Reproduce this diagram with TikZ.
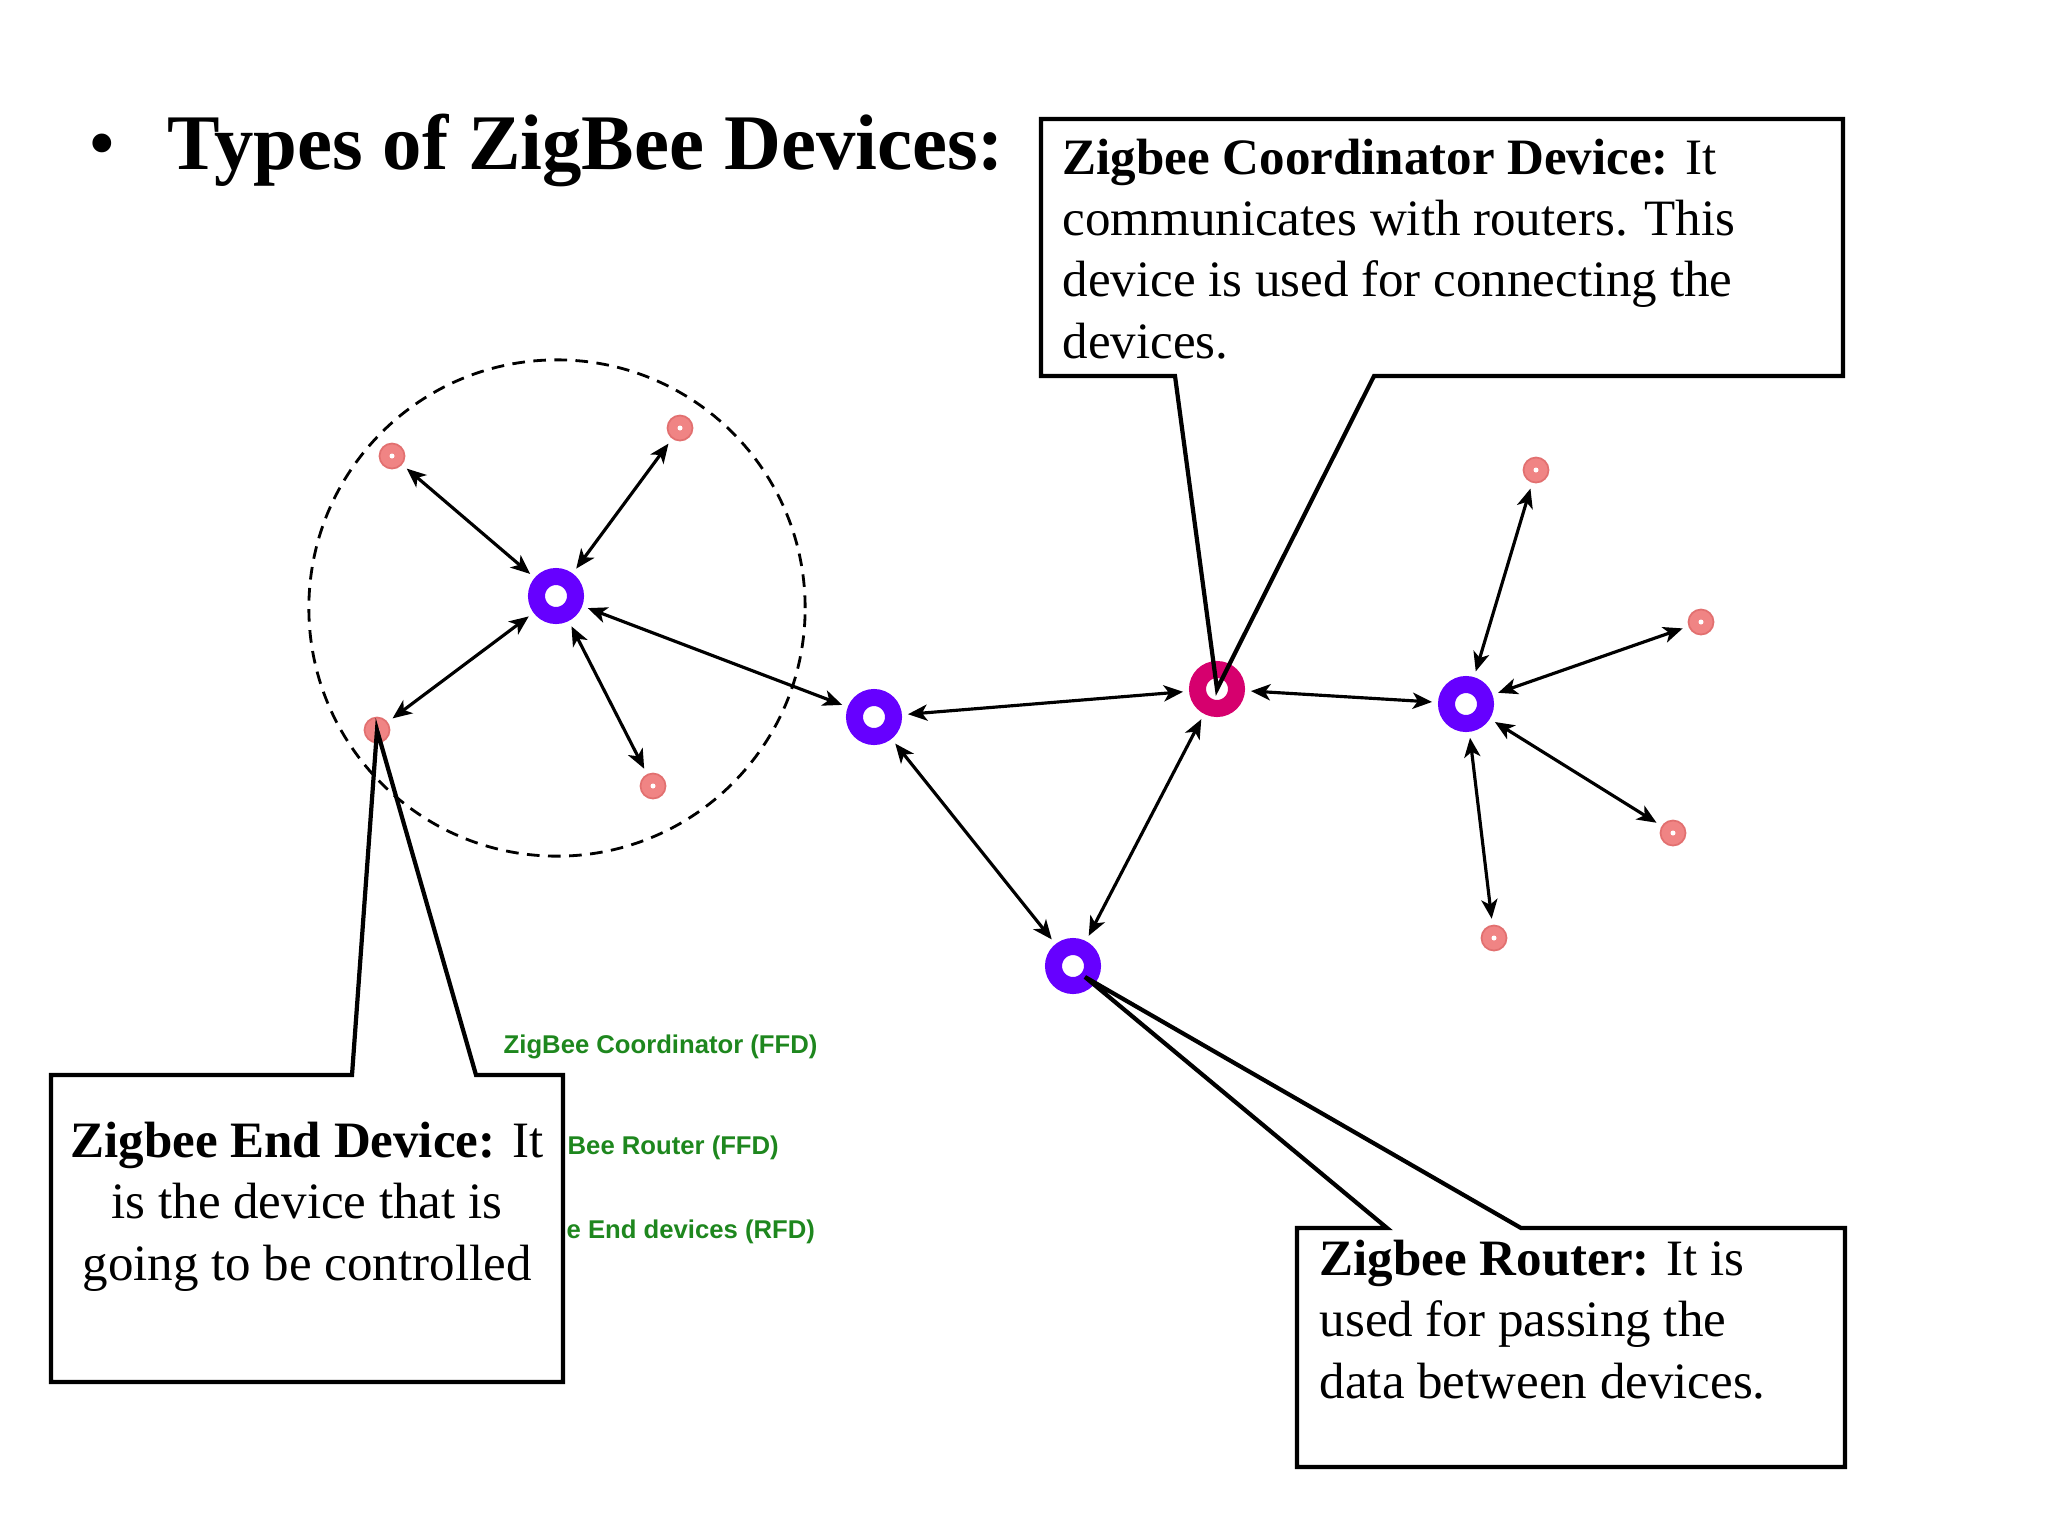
\documentclass[tikz,border=0pt]{standalone}
\usepackage{fontspec}
\setmainfont{Liberation Serif}
\newfontfamily\legendfont{Liberation Sans}
\usetikzlibrary{arrows.meta,calc}
\definecolor{routerblue}{RGB}{102,0,255}
\definecolor{coordred}{RGB}{214,0,110}
\definecolor{endpink}{RGB}{240,132,132}
\definecolor{endedge}{RGB}{226,112,112}
\definecolor{legendgreen}{RGB}{30,135,30}
\begin{document}
\begin{tikzpicture}[x=0.01cm,y=-0.01cm,
    router/.style={circle,draw=routerblue,line width=0.17cm,minimum size=0.39cm,inner sep=0pt,fill=white},
    coordinator/.style={router,draw=coordred},
    enddevice/.style={circle,fill=endpink,draw=endedge,line width=0.5pt,minimum size=0.25cm,inner sep=0pt,
      path picture={\fill [white] (path picture bounding box.center) circle (0.025cm);}},
    link/.style={line width=0.9pt,{Stealth[length=5.5pt,width=4.6pt,inset=1.5pt]}-{Stealth[length=5.5pt,width=4.6pt,inset=1.5pt]},
      shorten <=0.06cm,shorten >=0.06cm},
    cluster/.style={circle,draw,line width=0.8pt,dash pattern=on 3.6pt off 2.4pt,minimum size=4.96cm,inner sep=0pt},
    balloon/.style={line width=1.2pt,line join=miter},
    balloontext/.style={inner sep=0pt,font=\fontsize{14.5pt}{17.4pt}\selectfont},
    legendtext/.style={inner sep=0pt,anchor=base west,text=legendgreen,font=\legendfont\bfseries\fontsize{7.3pt}{9pt}\selectfont}]
    \path [use as bounding box,fill=white] (0,0) rectangle (2048,1536);
    % heading
    \node (bullet) at (102,169) [anchor=base,font=\fontsize{22.4pt}{27pt}\selectfont] {\textbullet};
    \node (title)  at (167,169) [anchor=base west,inner sep=0pt,font=\fontsize{22.4pt}{27pt}\selectfont\bfseries] {Types of ZigBee Devices:};
    % network
    \node (cell) at (557,608) [cluster] {};
    \node (r1) at (556,596)  [router] {};
    \node (r2) at (874,717)  [router] {};
    \node (r3) at (1073,966) [router] {};
    \node (co) at (1217,689) [coordinator] {};
    \node (r4) at (1466,704) [router] {};
    \node (e1) at (392,456)  [enddevice] {};
    \node (e2) at (680,428)  [enddevice] {};
    \node (e3) at (377,730)  [enddevice] {};
    \node (e4) at (653,786)  [enddevice] {};
    \node (e5) at (1536,470) [enddevice] {};
    \node (e6) at (1701,622) [enddevice] {};
    \node (e7) at (1673,833) [enddevice] {};
    \node (e8) at (1494,938) [enddevice] {};
    \draw [link] (r1) -- (e1);
    \draw [link] (r1) -- (e2);
    \draw [link] (r1) -- (e3);
    \draw [link] (r1) -- (e4);
    \draw [link] (r1) -- (r2);
    \draw [link] (r2) -- (co);
    \draw [link] (r2) -- (r3);
    \draw [link] (r3) -- (co);
    \draw [link] (co) -- (r4);
    \draw [link] (r4) -- (e5);
    \draw [link] (r4) -- (e6);
    \draw [link] (r4) -- (e7);
    \draw [link] (r4) -- (e8);
    % legend
    \node (legco) at (503,1053) [legendtext] {ZigBee Coordinator (FFD)};
    \node (legro) at (567,1154) [legendtext] {Bee Router (FFD)};
    \node (leged) at (566,1238) [legendtext] {e End devices (RFD)};
    % callouts
    \draw [balloon] (1175,376) -- (co.center) -- (1374,376) -- (1843,376) -- (1843,119) -- (1041,119) -- (1041,376) -- cycle;
    \node (cotext) at (1062,358) [balloontext,anchor=base west,align=left]
      {\textbf{Zigbee Coordinator Device:} It\\communicates with routers. This\\device is used for connecting the\\devices.};
    \draw [balloon] (352,1075) -- (e3.center) -- (476,1075) -- (563,1075) -- (563,1382) -- (51,1382) -- (51,1075) -- cycle;
    \node (edtext) at (307,1280) [balloontext,anchor=base,align=center]
      {\textbf{Zigbee End Device:} It\\is the device that is\\going to be controlled};
    \draw [balloon] (1387,1228) -- ($(r3)+(12,11)$) -- (1521,1228) -- (1845,1228) -- (1845,1467) -- (1297,1467) -- (1297,1228) -- cycle;
    \node (rotext) at (1319,1398) [balloontext,anchor=base west,align=left]
      {\textbf{Zigbee Router:} It is\\used for passing the\\data between devices.};
\end{tikzpicture}
\end{document}
